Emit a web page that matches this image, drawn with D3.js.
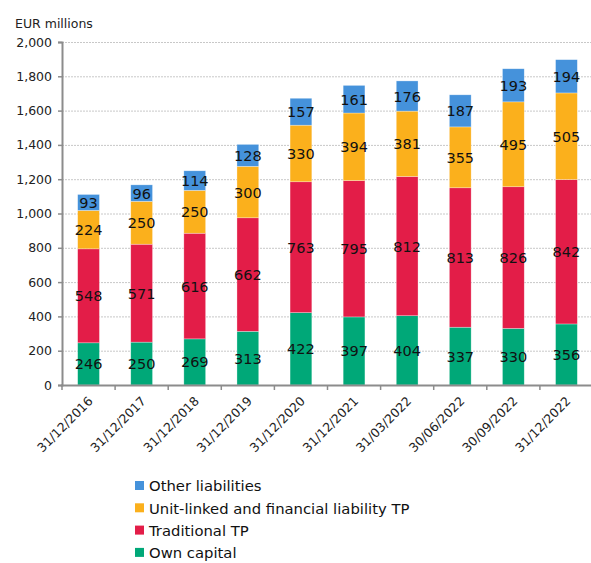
<!DOCTYPE html>
<html>
<head>
<meta charset="utf-8">
<script src="https://cdn.jsdelivr.net/npm/d3@7"></script>
<style>
  body { margin: 0; background: #fff; }
  svg { display: block; font-family: "DejaVu Sans", Verdana, sans-serif; }
</style>
</head>
<body>
<svg id="chart" width="591" height="563"></svg>
<script>
const categories = ["31/12/2016", "31/12/2017", "31/12/2018", "31/12/2019", "31/12/2020",
                    "31/12/2021", "31/03/2022", "30/06/2022", "30/09/2022", "31/12/2022"];
const ownCapital    = [246, 250, 269, 313, 422, 397, 404, 337, 330, 356];
const traditionalTP = [548, 571, 616, 662, 763, 795, 812, 813, 826, 842];
const unitLinkedTP  = [224, 250, 250, 300, 330, 394, 381, 355, 495, 505];
const otherLiab     = [93, 96, 114, 128, 157, 161, 176, 187, 193, 194];
const seriesNames   = ["Own capital", "Traditional TP", "Unit-linked and financial liability TP", "Other liabilities"];
const seriesColors  = ["#00a878", "#e31d48", "#fbb01c", "#4592db"];
const yTicks        = [0, 200, 400, 600, 800, 1000, 1200, 1400, 1600, 1800, 2000];

const seriesValues = [ownCapital, traditionalTP, unitLinkedTP, otherLiab];
const rows = categories.map((c, i) => {
  const r = { cat: c };
  seriesNames.forEach((s, k) => r[s] = seriesValues[k][i]);
  return r;
});

const svg = d3.select("#chart");
const plotLeft = 62, plotRight = 593, plotTop = 42, plotBottom = 385;

const x = d3.scaleBand().domain(categories).range([plotLeft, plotRight]).paddingInner(0.59).paddingOuter(0.295);
const y = d3.scaleLinear().domain([0, 2000]).range([plotBottom, plotTop]);

// Gridlines
svg.append("g").selectAll("line").data(yTicks.slice(1)).join("line")
  .attr("x1", plotLeft).attr("x2", 591)
  .attr("y1", d => y(d) + 0.5).attr("y2", d => y(d) + 0.5)
  .attr("stroke", "#c8c8c8").attr("stroke-dasharray", "2,1").attr("stroke-width", 1);

// Stacked bars
const stack = d3.stack().keys(seriesNames)(rows);
const layers = svg.append("g").selectAll("g").data(stack).join("g")
  .attr("fill", (d, i) => seriesColors[i]);
layers.selectAll("rect").data(d => d).join("rect")
  .attr("x", d => x(d.data.cat))
  .attr("width", x.bandwidth())
  .attr("y", d => y(d[1]))
  .attr("height", d => y(d[0]) - y(d[1]))
  .attr("stroke", "rgba(255,255,255,0.5)").attr("stroke-width", 0.6);

// Segment value labels
const labels = svg.append("g").attr("font-size", 14.5).attr("fill", "#111").attr("text-anchor", "middle");
stack.forEach((layer, k) => {
  labels.selectAll(null).data(layer).join("text")
    .attr("x", d => x(d.data.cat) + x.bandwidth() / 2)
    .attr("y", d => (y(d[0]) + y(d[1])) / 2)
    .attr("dy", "0.38em")
    .text(d => d.data[seriesNames[k]]);
});

// Y axis
const yAxis = svg.append("g").attr("transform", `translate(${plotLeft},0)`)
  .call(d3.axisLeft(y).tickValues(yTicks).tickSize(4).tickPadding(6).tickFormat(d3.format(",")));
yAxis.select(".domain").attr("stroke", "#8c8c8c").attr("stroke-width", 2);
yAxis.selectAll(".tick line").attr("stroke", "#8c8c8c").attr("stroke-width", 1.5);
yAxis.selectAll("text").attr("font-size", 12.5).attr("fill", "#222").attr("font-family", "DejaVu Sans, Verdana, sans-serif");

// X axis
const xAxis = svg.append("g").attr("transform", `translate(0,${plotBottom})`);
xAxis.append("line").attr("x1", plotLeft - 1).attr("x2", plotRight).attr("y1", 0.5).attr("y2", 0.5)
  .attr("stroke", "#8c8c8c").attr("stroke-width", 2);
const bandStep = x.step();
const tickPos = categories.map(c => x(c) + x.bandwidth() / 2 - bandStep / 2);
xAxis.selectAll(".tk").data(tickPos).join("line").attr("class", "tk")
  .attr("x1", d => d).attr("x2", d => d).attr("y1", 0).attr("y2", 5)
  .attr("stroke", "#8c8c8c").attr("stroke-width", 1.5);
xAxis.selectAll(".lbl").data(categories).join("text").attr("class", "lbl")
  .attr("transform", d => `translate(${x(d) + x.bandwidth() / 2 + 5},${17}) rotate(-45)`)
  .attr("text-anchor", "end").attr("font-size", 12.5).attr("fill", "#222")
  .text(d => d);

// Axis title
svg.append("text").attr("x", 15).attr("y", 28).attr("font-size", 12.5).attr("fill", "#222").text("EUR millions");

// Legend (top-down: Other, Unit-linked, Traditional, Own capital)
const legendOrder = [3, 2, 1, 0];
const lg = svg.append("g").attr("transform", "translate(135,486)");
legendOrder.forEach((k, i) => {
  const g = lg.append("g").attr("transform", `translate(0,${i * 22.3})`);
  g.append("rect").attr("x", 0).attr("y", -5).attr("width", 9).attr("height", 9).attr("fill", seriesColors[k]);
  g.append("text").attr("x", 14).attr("y", 0).attr("dy", "0.36em").attr("font-size", 14.8).attr("fill", "#111")
    .text(seriesNames[k]);
});
</script>
</body>
</html>
